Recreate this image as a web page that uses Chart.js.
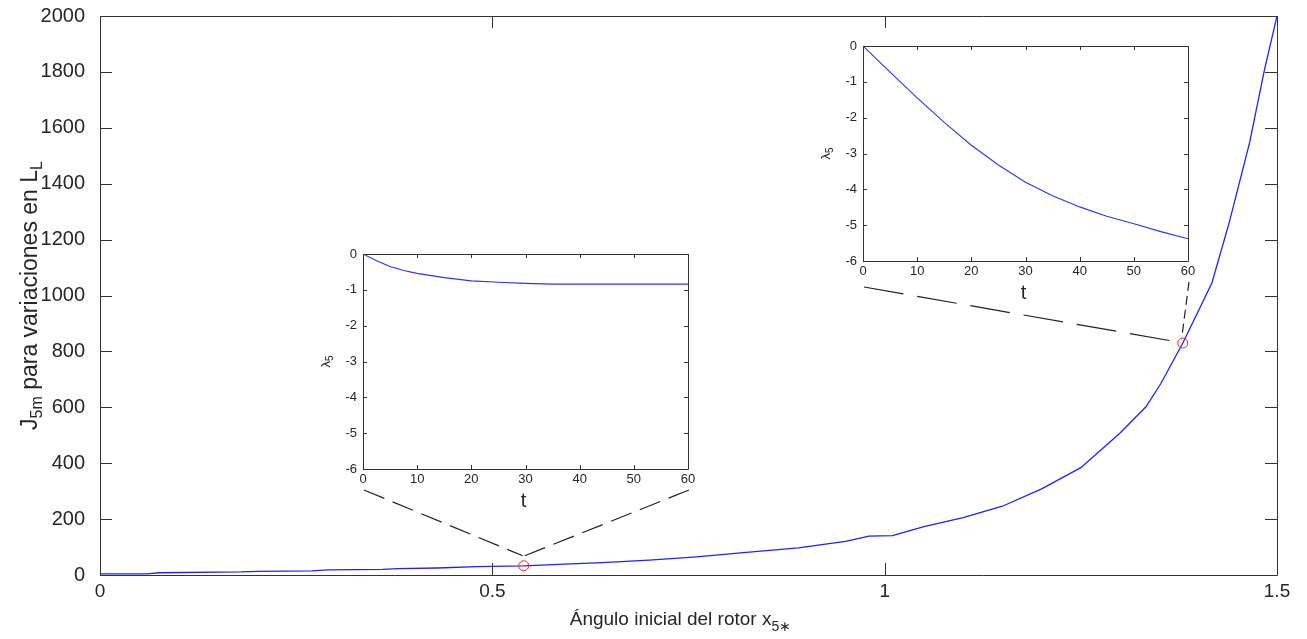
<!DOCTYPE html>
<html><head><meta charset="utf-8">
<script src="https://cdn.jsdelivr.net/npm/chart.js@4"></script>
<style>
html,body{margin:0;padding:0;background:#fff;}
#wrap{position:relative;width:1307px;height:639px;overflow:hidden;background:#fff;}
canvas{position:absolute;}
</style></head><body>
<div id="wrap">
<canvas id="main" width="1307" height="639" style="left:0;top:0"></canvas>
<canvas id="inset1" width="400" height="284" style="left:300px;top:236px"></canvas>
<canvas id="inset2" width="400" height="284" style="left:800px;top:28px"></canvas>
</div>
<script>
// ---- data ----
const angleX = [0, 0.06, 0.075, 0.18, 0.2, 0.27, 0.29, 0.36, 0.38, 0.43, 0.48, 0.54, 0.6, 0.64, 0.7, 0.76, 0.82, 0.89, 0.95, 0.98, 1.01, 1.05, 1.1, 1.15, 1.2, 1.25, 1.3, 1.333, 1.352, 1.38, 1.417, 1.439, 1.465, 1.484, 1.5];
const costJ  = [4, 4, 8, 11, 13, 15, 18, 20, 23, 25, 30, 33, 40, 44, 53, 65, 80, 97, 120, 139, 141, 173, 205, 246, 308, 384, 508, 602, 685, 830, 1045, 1260, 1546, 1807, 2000];
const markX = [0.54, 1.38];
const markY = [33, 830];
const tLow = [0, 2.5, 5, 7.5, 10, 15, 20, 25, 30, 35, 40, 50, 60];
const lambdaLow = [0, -0.19, -0.35, -0.46, -0.54, -0.66, -0.75, -0.79, -0.82, -0.84, -0.84, -0.84, -0.84];
const tHigh = [0, 5, 10, 15, 20, 25, 30, 35, 40, 45, 50, 55, 60];
const lambdaHigh = [0, -0.73, -1.45, -2.13, -2.77, -3.32, -3.80, -4.18, -4.49, -4.75, -4.96, -5.18, -5.38];
const mainXTicks = [0, 0.5, 1, 1.5];
const mainXTickLabels = ['0', '0.5', '1', '1.5'];
const mainYTicks = [0, 200, 400, 600, 800, 1000, 1200, 1400, 1600, 1800, 2000];
const mainYTickLabels = ['0', '200', '400', '600', '800', '1000', '1200', '1400', '1600', '1800', '2000'];
const insetXTicks = [0, 10, 20, 30, 40, 50, 60];
const insetXTickLabels = ['0', '10', '20', '30', '40', '50', '60'];
const insetYTicks = [-6, -5, -4, -3, -2, -1, 0];
const insetYTickLabels = ['-6', '-5', '-4', '-3', '-2', '-1', '0'];

const TXT = '#262626';
const FAM = "'Liberation Sans', Arial, sans-serif";
Chart.defaults.font.family = FAM;
Chart.defaults.color = TXT;
Chart.defaults.animation = false;

function drawParts(ctx, parts, x, y, align) {
  // parts: [text, fontSize, baselineShift]
  let total = 0;
  parts.forEach(p => { ctx.font = p[1] + 'px ' + FAM; total += ctx.measureText(p[0]).width; });
  let cx = align === 'center' ? x - total / 2 : x;
  ctx.textAlign = 'left';
  ctx.textBaseline = 'alphabetic';
  parts.forEach(p => { ctx.font = p[1] + 'px ' + FAM; ctx.fillText(p[0], cx, y + p[2]); cx += ctx.measureText(p[0]).width; });
}

const boxTicks = {
  id: 'boxTicks',
  afterDraw(chart, args, o) {
    const {ctx, chartArea: a, scales: {x, y}} = chart;
    ctx.save();
    ctx.strokeStyle = o.color; ctx.lineWidth = 1;
    ctx.beginPath();
    ctx.rect(Math.round(a.left) + 0.5, Math.round(a.top) + 0.5, Math.round(a.right - a.left), Math.round(a.bottom - a.top));
    x.ticks.forEach(t => {
      const px = Math.round(x.getPixelForValue(t.value)) + 0.5;
      ctx.moveTo(px, a.bottom); ctx.lineTo(px, a.bottom - o.len);
      ctx.moveTo(px, a.top); ctx.lineTo(px, a.top + o.len);
    });
    y.ticks.forEach(t => {
      const py = Math.round(y.getPixelForValue(t.value)) + 0.5;
      ctx.moveTo(a.left, py); ctx.lineTo(a.left + o.len, py);
      ctx.moveTo(a.right, py); ctx.lineTo(a.right - o.len, py);
    });
    ctx.stroke();
    ctx.restore();
  }
};

const titles = {
  id: 'titles',
  afterDraw(chart, args, o) {
    const {ctx, chartArea: a} = chart;
    ctx.save();
    ctx.fillStyle = TXT;
    drawParts(ctx, o.xParts, (a.left + a.right) / 2 + o.xdx, a.bottom + o.xdy, 'center');
    ctx.translate(a.left - o.ydx, (a.top + a.bottom) / 2);
    ctx.rotate(-Math.PI / 2);
    drawParts(ctx, o.yParts, 0, 0, 'center');
    ctx.restore();
  }
};

function setTicks(values) { return s => { s.ticks = values.map(v => ({value: v})); }; }
function labelFor(values, labels) { return v => labels[values.indexOf(v)]; }
function fitX(h) { return s => { s.height = h; s.paddingLeft = 0; s.paddingRight = 0; }; }
function fitY(w) { return s => { s.width = w; s.paddingTop = 0; s.paddingBottom = 0; }; }

function makeInset(id, ts, ls) {
  const el = document.getElementById(id);
  return new Chart(el, {
    type: 'scatter',
    data: {datasets: [{data: ts.map((t, i) => ({x: t, y: ls[i]})), showLine: true, borderColor: '#3030ff', borderWidth: 1.1, pointRadius: 0, tension: 0}]},
    plugins: [boxTicks, titles],
    options: {
      responsive: false, animation: false,
      layout: {padding: {left: 0, right: 12, top: 18, bottom: 0}},
      scales: {
        x: {type: 'linear', min: 0, max: 60, grid: {display: false, drawTicks: false}, border: {display: false},
            afterBuildTicks: setTicks(insetXTicks), afterFit: fitX(51),
            ticks: {callback: labelFor(insetXTicks, insetXTickLabels), font: {size: 13}, padding: 3, maxRotation: 0, color: TXT}},
        y: {type: 'linear', min: -6, max: 0, grid: {display: false, drawTicks: false}, border: {display: false},
            afterBuildTicks: setTicks(insetYTicks), afterFit: fitY(63),
            ticks: {callback: labelFor(insetYTicks, insetYTickLabels), font: {size: 13}, padding: 6, color: TXT}}
      },
      plugins: {
        legend: {display: false}, tooltip: {enabled: false},
        boxTicks: {color: '#333', len: 4},
        titles: {xParts: [['t', 20, 0]], xdx: -2, xdy: 38, yParts: [['\u03bb', 13, 0], ['5', 10, 3]], ydx: 33}
      }
    }
  });
}

const inset1 = makeInset('inset1', tLow, lambdaLow);
const inset2 = makeInset('inset2', tHigh, lambdaHigh);

const connectors = {
  id: 'connectors',
  afterDraw(chart) {
    const {ctx, scales: {x, y}} = chart;
    const m = markX.map((v, i) => ({x: x.getPixelForValue(v), y: y.getPixelForValue(markY[i])}));
    function area(ch, id) {
      const el = document.getElementById(id);
      const l = parseFloat(el.style.left), t = parseFloat(el.style.top), a = ch.chartArea;
      return {left: l + a.left, right: l + a.right, bottom: t + a.bottom};
    }
    const a1 = area(inset1, 'inset1'), a2 = area(inset2, 'inset2');
    const segs = [
      [a1.left + 1, a1.bottom + 21, m[0].x - 1, m[0].y - 10, [22, 9]],
      [a1.right + 1, a1.bottom + 21, m[0].x + 1, m[0].y - 10, [22, 9]],
      [a2.left + 1, a2.bottom + 26, m[1].x - 5, m[1].y - 1, [40, 14]],
      [a2.right + 1, a2.bottom + 21, m[1].x - 1, m[1].y - 6, [9, 5]]
    ];
    ctx.save();
    ctx.strokeStyle = '#222'; ctx.lineWidth = 1.2;
    segs.forEach(s => { ctx.setLineDash(s[4]); ctx.beginPath(); ctx.moveTo(s[0], s[1]); ctx.lineTo(s[2], s[3]); ctx.stroke(); });
    ctx.restore();
  }
};

new Chart(document.getElementById('main'), {
  type: 'scatter',
  data: {datasets: [
    {data: markX.map((v, i) => ({x: v, y: markY[i]})), showLine: false, pointStyle: 'circle', pointRadius: 5, borderColor: '#ff2020', backgroundColor: 'rgba(0,0,0,0)', borderWidth: 1, order: 0},
    {data: angleX.map((v, i) => ({x: v, y: costJ[i]})), showLine: true, borderColor: '#2020ff', borderWidth: 1.3, pointRadius: 0, tension: 0, order: 1}
  ]},
  plugins: [boxTicks, titles, connectors],
  options: {
    responsive: false, animation: false,
    layout: {padding: {left: 0, right: 30, top: 16, bottom: 0}},
    scales: {
      x: {type: 'linear', min: 0, max: 1.5, grid: {display: false, drawTicks: false}, border: {display: false},
          afterBuildTicks: setTicks(mainXTicks), afterFit: fitX(64),
          ticks: {callback: labelFor(mainXTicks, mainXTickLabels), font: {size: 19}, padding: 5, maxRotation: 0, color: TXT}},
      y: {type: 'linear', min: 0, max: 2000, grid: {display: false, drawTicks: false}, border: {display: false},
          afterBuildTicks: setTicks(mainYTicks), afterFit: fitY(100),
          ticks: {callback: labelFor(mainYTicks, mainYTickLabels), font: {size: 20}, padding: 15, color: TXT}}
    },
    plugins: {
      legend: {display: false}, tooltip: {enabled: false},
      boxTicks: {color: '#333', len: 12},
      titles: {
        xParts: [['\u00c1ngulo inicial del rotor x', 19, 0], ['5\u2217', 14, 6]], xdx: -8, xdy: 50,
        yParts: [['J', 23, 0], ['5m', 16, 5], [' para variaciones en L', 23, 0], ['L', 16, 5]], ydx: 63
      }
    }
  }
});
</script>
</body></html>
